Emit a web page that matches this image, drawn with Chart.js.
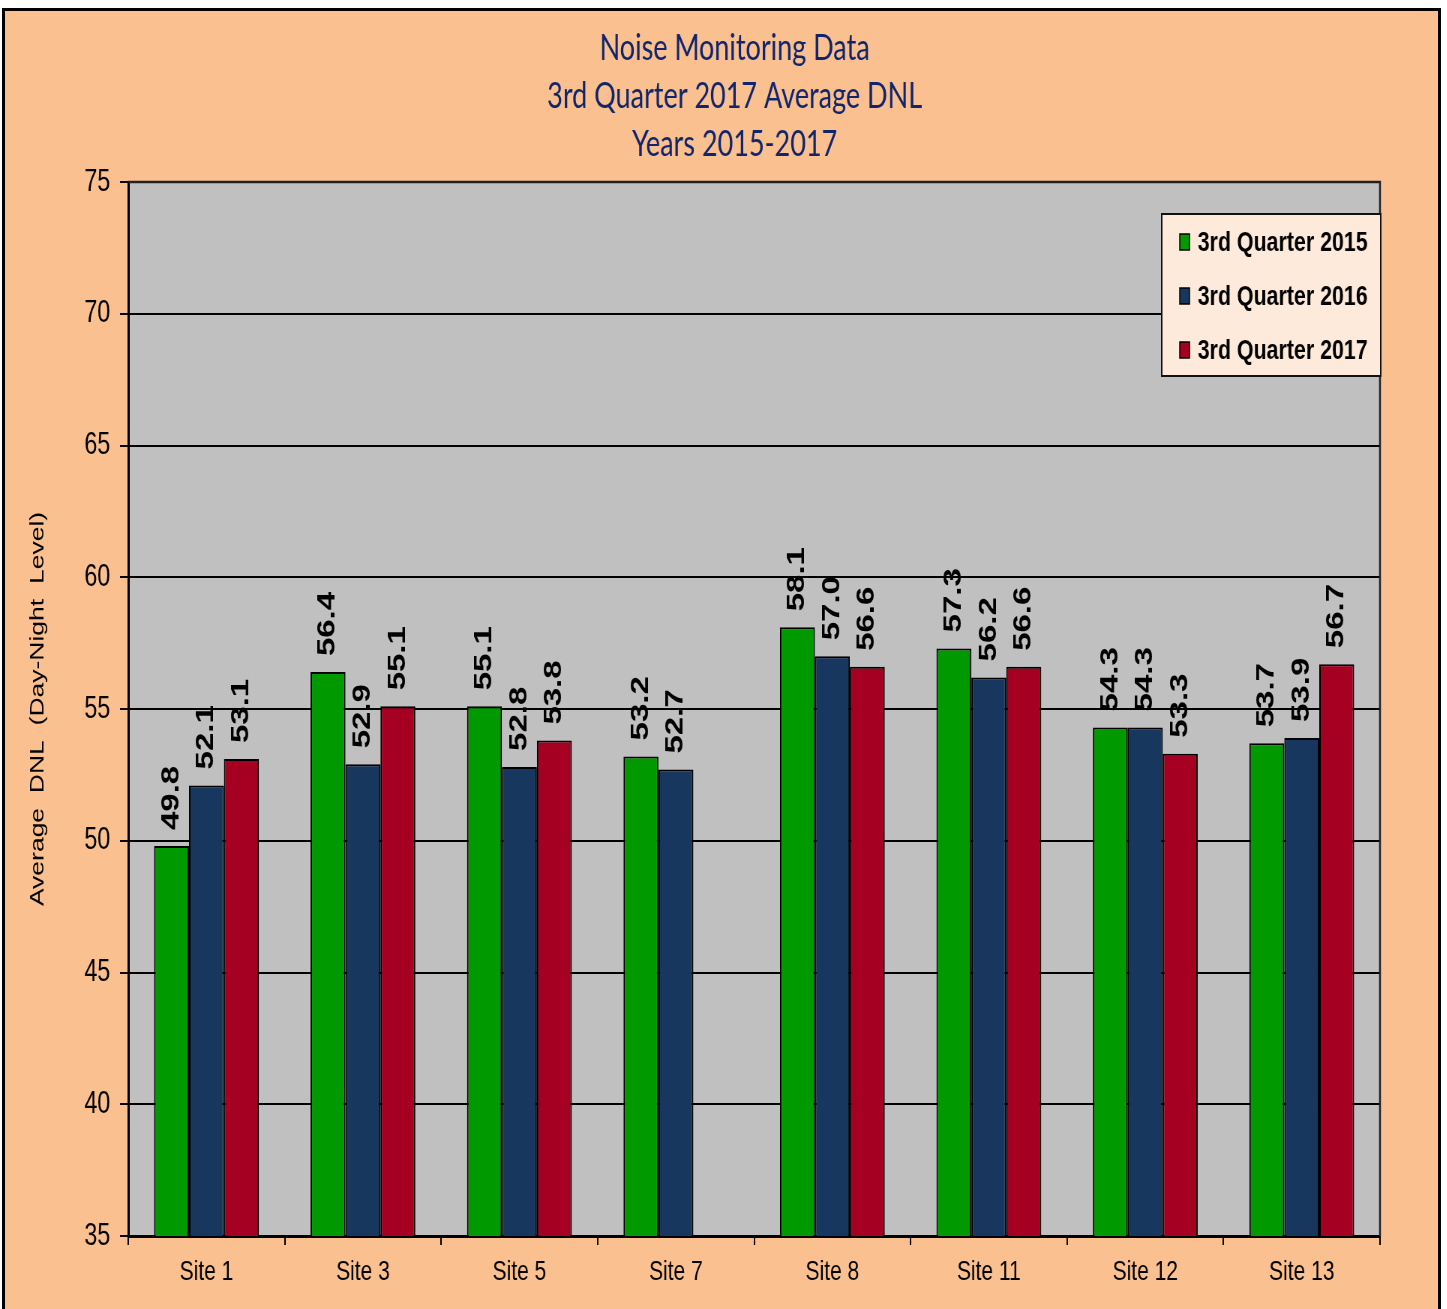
<!DOCTYPE html>
<html>
<head>
<meta charset="utf-8">
<title>Noise Monitoring Data</title>
<script src="https://cdn.jsdelivr.net/npm/chart.js@4.4.1/dist/chart.umd.min.js"></script>
<style>
  html, body { margin: 0; padding: 0; background: #fff; overflow: hidden; }
  #frame {
    position: absolute; left: 2px; top: 8px; width: 1439px; height: 1320px;
    box-sizing: border-box; background: #fac090;
    border: 3px solid #000; border-bottom: none;
  }
  #wrap {
    position: absolute; left: 0; top: 0;
    transform: scaleX(0.75); transform-origin: 0 0;
  }
</style>
</head>
<body>
<div id="frame"></div>
<div id="wrap"><canvas id="noise" width="1929" height="1309"></canvas></div>
<script>
var siteLabels = ['Site 1', 'Site 3', 'Site 5', 'Site 7', 'Site 8', 'Site 11', 'Site 12', 'Site 13'];
var seriesNames = ['3rd Quarter 2015', '3rd Quarter 2016', '3rd Quarter 2017'];
var q3_2015 = [49.8, 56.4, 55.1, 53.2, 58.1, 57.3, 54.3, 53.7];
var q3_2016 = [52.1, 52.9, 52.8, 52.7, 57.0, 56.2, 54.3, 53.9];
var q3_2017 = [53.1, 55.1, 53.8, null, 56.6, 56.6, 53.3, 56.7];
var yMin = 35, yMax = 75, yStep = 5;
var titleLines = ['Noise Monitoring Data', '3rd Quarter 2017 Average DNL', 'Years 2015-2017'];
var yTitle = 'Average  DNL  (Day-Night  Level)';

var colors = ['#009900', '#17375e', '#a50021'];

// three-line title, sits a little right of the canvas middle
var headTitle = {
	id: 'headTitle',
	afterDraw: function(chart) {
		var ctx = chart.ctx;
		ctx.save();
		ctx.font = '36px Lato, "Open Sans", sans-serif';
		ctx.fillStyle = '#10256b';
		ctx.textAlign = 'center';
		ctx.textBaseline = 'middle';
		titleLines.forEach(function(t, i) {
			ctx.fillText(t, chart.width / 2 + 15, 48 + i * 48);
		});
		ctx.restore();
	}
};

// gray plot area + outline
var plotBg = {
	id: 'plotBg',
	beforeDraw: function(chart) {
		var a = chart.chartArea, ctx = chart.ctx;
		ctx.save();
		ctx.fillStyle = '#c0c0c0';
		ctx.fillRect(a.left, a.top, a.right - a.left, a.bottom - a.top);
		ctx.restore();
	},
	afterDatasetsDraw: function(chart) {
		var a = chart.chartArea, ctx = chart.ctx;
		ctx.save();
		ctx.strokeStyle = '#222';
		ctx.lineWidth = 2.5;
		ctx.beginPath();
		ctx.moveTo(a.left, a.top);
		ctx.lineTo(a.right, a.top);
		ctx.lineTo(a.right, a.bottom);
		ctx.stroke();
		ctx.restore();
	}
};

// rotated value labels above the bars
var barValues = {
	id: 'barValues',
	afterDatasetsDraw: function(chart) {
		var ctx = chart.ctx;
		ctx.save();
		ctx.font = 'bold 33px "Liberation Sans", Arial, sans-serif';
		ctx.fillStyle = '#000';
		ctx.textAlign = 'left';
		ctx.textBaseline = 'middle';
		chart.data.datasets.forEach(function(ds, i) {
			var meta = chart.getDatasetMeta(i);
			meta.data.forEach(function(bar, j) {
				var v = ds.data[j];
				if (v === null || v === undefined) return;
				ctx.save();
				ctx.translate(bar.x, bar.y - 16);
				ctx.rotate(-Math.PI / 2);
				ctx.fillText(v.toFixed(1), 0, 0);
				ctx.restore();
			});
		});
		ctx.restore();
	}
};

// boxed legend in the upper right of the plot
var boxLegend = {
	id: 'boxLegend',
	afterDraw: function(chart) {
		var a = chart.chartArea, ctx = chart.ctx;
		var w = 292, h = 162;
		var x = a.right - w + 1, y = a.top + 32;
		ctx.save();
		ctx.fillStyle = '#fdeada';
		ctx.fillRect(x, y, w, h);
		ctx.strokeStyle = '#111';
		ctx.lineWidth = 2;
		ctx.strokeRect(x, y, w, h);
		ctx.font = 'bold 28.5px "Liberation Sans", Arial, sans-serif';
		ctx.textBaseline = 'middle';
		ctx.textAlign = 'left';
		chart.data.datasets.forEach(function(ds, i) {
			var cy = y + 28 + i * 54;
			ctx.fillStyle = ds.backgroundColor;
			ctx.fillRect(x + 24, cy - 8, 13, 16);
			ctx.strokeStyle = '#000';
			ctx.lineWidth = 1.5;
			ctx.strokeRect(x + 24, cy - 8, 13, 16);
			ctx.fillStyle = '#000';
			ctx.fillText(ds.label, x + 48, cy + 1);
		});
		ctx.restore();
	}
};

var series = [q3_2015, q3_2016, q3_2017];
var datasets = series.map(function(d, i) {
	return {
		label: seriesNames[i],
		data: d,
		backgroundColor: colors[i],
		borderColor: '#000',
		borderWidth: 2,
		borderSkipped: false,
		categoryPercentage: 0.67,
		barPercentage: 1.0
	};
});

new Chart(document.getElementById('noise'), {
	type: 'bar',
	data: { labels: siteLabels, datasets: datasets },
	plugins: [plotBg, barValues, boxLegend, headTitle],
	options: {
		responsive: false,
		animation: false,
		devicePixelRatio: 1,
		layout: { padding: { left: 0, right: 89, top: 182, bottom: 0 } },
		plugins: {
			legend: { display: false },
			tooltip: { enabled: false },
			title: { display: false }
		},
		scales: {
			x: {
				grid: {
					display: true, drawOnChartArea: false, drawTicks: true,
					tickLength: 9, color: '#000', lineWidth: 2
				},
				border: { display: true, color: '#000', width: 3 },
				ticks: {
					color: '#000', padding: 10,
					font: { family: '"Liberation Sans", Arial, sans-serif', size: 28 }
				},
				afterFit: function(s) { s.height = 73; }
			},
			y: {
				min: yMin, max: yMax,
				ticks: {
					stepSize: yStep, color: '#000', padding: 13,
					font: { family: '"Liberation Sans", Arial, sans-serif', size: 31 }
				},
				grid: { color: '#000', lineWidth: 2, tickLength: 11 },
				border: { display: true, color: '#000', width: 3 },
				title: {
					display: true, text: yTitle, color: '#000',
					font: { family: '"Liberation Sans", Arial, sans-serif', size: 26.5 },
					padding: { top: 35, bottom: 0 }
				},
				afterFit: function(s) { s.width = 171; }
			}
		}
	}
});
</script>
</body>
</html>
